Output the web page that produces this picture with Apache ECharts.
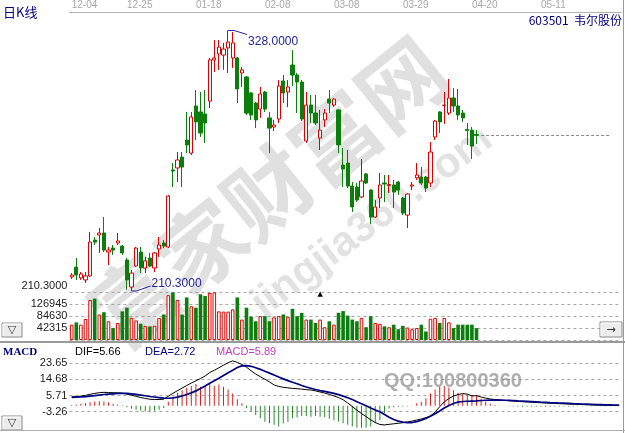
<!DOCTYPE html>
<html><head><meta charset="utf-8">
<script src="https://cdn.jsdelivr.net/npm/echarts@6/dist/echarts.min.js"></script>
<style>html,body{margin:0;padding:0;background:#fff}#c{width:625px;height:433px}</style>
</head><body><div id="c"></div>
<script>
const tickLabels = ['12-04','12-25','01-18','02-08','03-08','03-29','04-20','05-11'];
const tickIdx = [0,12,27,42,57,72,87,102];
const opens = [216.6,221.1,216.2,215.3,217.1,233.3,235.6,236.5,227.9,229.7,
232.0,230.6,224.3,212.1,221.6,227.9,220.7,225.2,220.7,229.3,
232.0,230.2,265.0,265.9,270.8,278.5,272.6,293.9,291.2,290.3,
296.1,314.7,317.4,316.9,320.1,315.6,315.6,308.8,307.0,299.8,
295.2,292.5,300.2,288.5,284.4,288.0,305.2,300.2,312.4,307.9,
304.7,278.1,294.3,290.7,279.4,287.6,297.0,294.3,292.1,267.2,
268.1,257.7,257.3,252.8,263.2,255.9,243.7,252.3,259.1,258.0,
258.2,259.5,252.3,244.6,257.7,261.4,261.8,261.8,259.1,279.9,
291.2,294.1,290.7,297.5,293.9,290.7,283.3,283.0,281.0];
const closes = [217.5,217.5,218.0,217.1,232.4,232.4,236.5,228.8,228.8,228.8,
232.9,227.5,215.3,218.4,229.7,220.7,223.9,221.6,227.5,231.1,
230.6,253.2,264.5,269.5,266.3,276.3,288.9,286.7,281.7,286.2,
314.7,315.6,320.5,319.6,322.8,322.4,301.6,310.2,290.7,289.8,
287.6,299.3,292.5,283.9,285.3,302.9,299.8,302.5,307.9,304.7,
288.0,294.3,290.7,286.2,283.0,290.7,295.2,297.0,276.3,265.4,
257.7,248.3,251.4,260.0,259.1,243.7,248.3,258.2,258.6,258.4,
255.0,255.9,245.5,254.1,258.2,262.7,259.1,256.8,273.1,287.1,
286.7,294.3,297.5,293.9,289.8,288.5,282.8,275.8,280.6];
const lows = [215.7,215.3,215.3,213.9,216.6,231.1,227.5,227.9,222.0,226.6,
231.1,226.6,210.8,210.3,221.1,218.4,218.4,221.1,218.9,225.7,
229.7,229.7,257.3,259.5,257.3,272.6,271.7,278.5,279.9,277.2,
293.0,309.2,310.2,310.2,308.8,311.1,295.2,302.5,289.8,287.6,
283.9,288.5,291.2,272.6,282.6,286.2,295.2,293.4,302.9,290.7,
287.1,277.2,286.2,285.3,274.0,284.4,290.7,293.4,272.6,257.3,
256.8,246.0,250.5,252.3,258.6,240.6,243.3,247.8,250.5,254.6,
247.8,253.7,244.6,238.8,255.9,260.5,258.2,255.0,257.3,278.5,
281.7,285.8,289.8,291.2,287.6,286.7,276.3,269.9,276.7];
const highs = [218.4,225.2,218.9,218.9,237.0,234.7,238.8,243.7,230.2,231.1,
236.5,231.1,225.2,219.8,230.2,230.2,225.7,227.5,227.9,234.7,
233.3,253.7,268.1,273.1,273.1,291.2,291.2,301.1,300.2,301.1,
315.6,323.7,323.7,322.4,328.0,327.3,316.0,311.5,307.5,300.2,
295.7,302.5,300.7,291.2,287.6,305.6,307.9,305.6,319.2,308.8,
305.6,300.2,298.9,298.9,292.1,292.5,301.1,297.5,292.5,274.9,
274.0,259.5,259.1,269.9,263.6,256.3,251.4,263.6,262.7,262.7,
260.5,260.0,252.8,254.4,259.5,268.1,266.3,262.3,277.6,287.6,
291.6,300.2,306.1,302.0,301.6,292.1,286.2,284.4,283.0];
const volumes = [54000,62000,54000,74000,141000,146000,90000,98000,66000,42000,
60000,101000,114000,78000,69000,57000,50000,48000,50000,78000,
90000,158000,168000,141000,90000,150000,119000,114000,161000,155000,
166000,168000,101000,100000,100000,108000,150000,72000,114000,82000,
66000,84000,84000,66000,80000,84000,90000,82000,110000,84000,
95600,72000,72000,60000,72000,45000,66000,54000,96000,102000,
86000,72000,66000,78000,45000,84000,60000,57000,48000,45000,
54000,38000,50000,44000,38000,42000,54000,30000,75000,78000,
60000,78000,62000,42000,54000,54000,54000,54000,42000];
const volTicks = [42315, 84630, 126945];
const priceLow = 210.3, priceHigh = 328.0;
const difVals = [4.95,5.1,5.4,5.8,6.4,6.9,7.3,7.5,7.4,7.3,
7.2,7.05,6.5,5.9,5.3,4.6,4.1,3.65,3.5,3.5,
3.7,5.35,6.95,8.45,9.85,11.3,12.7,13.9,15.2,16.6,
18.5,19.8,21.2,22.6,24.0,25.0,24.2,23.0,21.5,19.5,
17.7,16.2,14.8,13.3,11.6,10.8,10.3,10.0,9.7,9.5,
9.3,9.0,8.8,8.3,7.7,7.1,6.4,5.5,4.6,3.4,
1.6,-0.4,-2.4,-4.3,-6.0,-7.8,-9.3,-10.4,-10.6,-10.3,
-10.0,-9.7,-9.4,-9.0,-8.5,-7.9,-7.3,-6.6,-5.6,-3.5,
-0.5,2.2,4.1,5.4,6.3,6.8,6.5,5.5,5.66,
4.9,4.3,3.8,3.5,3.25,3.05,2.85,2.65,2.45,2.3,
2.15,2.0,1.85,1.7,1.6,1.45,1.35,1.2,1.1,1.0,
0.9,0.8,0.7,0.6,0.5,0.45,0.35,0.3,0.25,0.2,0.15];
const deaVals = [4.7,4.8,4.9,5.1,5.4,5.7,6.0,6.3,6.5,6.7,
6.9,6.9,6.9,6.7,6.4,6.0,5.6,5.2,4.9,4.6,
4.3,4.2,4.4,4.8,5.5,6.3,7.2,8.3,9.6,11.0,
12.5,14.0,15.4,16.9,18.4,19.8,21.3,22.2,22.4,22.0,
21.2,20.3,19.2,18.2,17.1,16.0,15.0,14.0,13.1,12.3,
11.3,10.5,9.8,9.1,8.5,8.0,7.5,6.9,6.2,5.4,
4.5,3.5,2.3,1.2,0.0,-1.2,-2.3,-3.3,-4.8,-6.3,
-7.6,-8.5,-9.1,-9.3,-9.3,-8.8,-8.0,-7.0,-5.8,-4.4,
-2.9,-1.2,0.2,1.3,2.1,2.4,2.55,2.65,2.72,
2.95,3.1,3.2,3.2,3.15,3.1,3.0,2.9,2.75,2.65,
2.5,2.35,2.2,2.05,1.95,1.8,1.7,1.55,1.45,1.35,
1.2,1.1,1.0,0.9,0.8,0.7,0.65,0.55,0.5,0.45,0.4];
const macdVals = [0.5,0.6,1.0,1.4,2.0,2.4,2.6,2.4,1.8,1.2,
0.6,0.3,-0.8,-1.6,-2.2,-2.8,-3.0,-3.1,-2.8,-2.2,
-1.2,2.3,5.1,7.3,8.7,10.0,11.0,12.1,10.6,11.5,
12.5,11.0,11.9,10.6,9.1,6.9,3.6,1.4,-1.4,-3.2,
-5.1,-6.9,-8.8,-9.7,-10.6,-11.5,-9.7,-8.8,-6.9,-6.3,
-5.7,-5.7,-6.1,-5.7,-6.1,-6.3,-7.2,-8.0,-8.8,-9.7,
-10.6,-11.5,-13.0,-13.4,-12.5,-11.5,-9.7,-8.0,-4.0,-1.5,
-0.8,-0.5,-0.4,-0.3,0.2,1.4,2.3,4.1,6.9,9.1,
10.6,11.0,10.2,8.7,7.3,6.6,6.2,6.0,5.89,
3.9,2.4,1.2,0.5,0.2,-0.1,-0.3,-0.4,-0.4,-0.5,
-0.5,-0.5,-0.5,-0.5,-0.5,-0.5,-0.4,-0.4,-0.4,-0.4,
-0.4,-0.3,-0.3,-0.3,-0.3,-0.3,-0.3,-0.2,-0.2,-0.2,-0.2];
const macdTicks = [23.65, 14.68, 5.71, -3.26];
const header = {dif: '5.66', dea: '2.72', macd: '5.89'};

const N = 120;
const RED = '#e00000', GREEN = '#0b7e0b', NAVY = '#000080';
const NUMFONT = "'Liberation Sans Narrow','Liberation Sans',sans-serif";
const slotNames = Array.from({length: N}, (_, i) => String(i));
const candleData = opens.map((o, i) => [o, closes[i], lows[i], highs[i]]);
const isUp = i => closes[i] >= opens[i];
const volData = volumes.map((v, i) => isUp(i)
  ? {value: v, itemStyle: {color: '#fff', borderColor: RED, borderWidth: 1}}
  : {value: v, itemStyle: {color: GREEN}});
const histData = macdVals.map(v => ({value: v, itemStyle: {color: v >= 0 ? '#d82020' : '#2a8a2a'}}));
const volStep = volTicks[0];
const macdStep = macdTicks[0] - macdTicks[1];
const lastIdx = closes.length - 1;
const lastClose = closes[lastIdx];

const chart = echarts.init(document.getElementById('c'));
const gridBase = {left: 69.4, width: 552, outerBoundsMode: 'none', containLabel: false};
const labelStyle = {color: '#222', fontSize: 11, margin: 2, fontFamily: NUMFONT};
const dashed = {color: '#a8a8a8', type: [3, 3], width: 1};

chart.setOption({
  animation: false,
  backgroundColor: '#fff',
  grid: [
    Object.assign({top: 30.5, height: 260.5}, gridBase),
    Object.assign({top: 292, height: 48}, gridBase),
    Object.assign({top: 347.2, height: 80.6}, gridBase)
  ],
  xAxis: [
    {type: 'category', gridIndex: 0, data: slotNames, position: 'top', offset: 18, boundaryGap: true,
     axisLine: {show: true, lineStyle: {color: '#b0b0b0'}}, axisTick: {show: false}, splitLine: {show: false},
     axisLabel: {interval: (i) => tickIdx.indexOf(i) >= 0,
                 formatter: (v, i) => { const k = tickIdx.indexOf(Number(v)); return k >= 0 ? tickLabels[k] : ''; },
                 align: 'left', color: '#a8a8a8', fontSize: 10, margin: 2, fontFamily: NUMFONT}},
    {type: 'category', gridIndex: 1, data: slotNames, boundaryGap: true, axisLine: {show: false}, axisTick: {show: false}, axisLabel: {show: false}},
    {type: 'category', gridIndex: 2, data: slotNames, boundaryGap: true, axisLine: {show: false}, axisTick: {show: false}, axisLabel: {show: false}}
  ],
  yAxis: [
    {type: 'value', gridIndex: 0, min: priceLow, max: priceHigh, axisLine: {show: false},
     axisTick: {show: false, customValues: [priceLow]}, splitLine: {show: false},
     axisLabel: Object.assign({customValues: [priceLow], formatter: v => v.toFixed(4), verticalAlign: 'bottom'}, labelStyle)},
    {type: 'value', gridIndex: 1, min: 0, max: volStep * 4, interval: volStep, axisLine: {show: false}, axisTick: {show: false},
     splitLine: {show: true, lineStyle: dashed},
     axisLabel: Object.assign({showMinLabel: false, showMaxLabel: false, formatter: v => String(Math.round(v))}, labelStyle)},
    {type: 'value', gridIndex: 2, min: macdTicks[3] - macdStep, max: macdTicks[0] + macdStep, axisLine: {show: false},
     axisTick: {show: false, customValues: macdTicks}, splitLine: {show: true, lineStyle: dashed},
     axisLabel: Object.assign({customValues: macdTicks, formatter: v => v.toFixed(2)}, labelStyle)}
  ],
  series: [
    {type: 'candlestick', xAxisIndex: 0, yAxisIndex: 0, data: candleData, barWidth: 3.6, z: 5,
     itemStyle: {color: '#fff', color0: GREEN, borderColor: RED, borderColor0: GREEN, borderWidth: 1},
     markLine: {silent: true, symbol: 'none', label: {show: false}, lineStyle: {color: '#888', type: [3, 2], width: 1},
       data: [[{coord: [String(lastIdx + 1), lastClose]}, {coord: [String(N - 3), lastClose]}]]}},
    {type: 'bar', xAxisIndex: 1, yAxisIndex: 1, data: volData, barWidth: 3.6, z: 5},
    {type: 'bar', xAxisIndex: 2, yAxisIndex: 2, data: histData, barWidth: 1, z: 4},
    {type: 'line', xAxisIndex: 2, yAxisIndex: 2, data: difVals, symbol: 'none', z: 6, lineStyle: {color: '#000', width: 1}},
    {type: 'line', xAxisIndex: 2, yAxisIndex: 2, data: deaVals, symbol: 'none', z: 6, lineStyle: {color: NAVY, width: 1.7}}
  ]
});

function button(x, y, w, h, glyph, id) {
  return {type: 'group', id: id, x: x, y: y, z: 50, children: [
    {type: 'rect', shape: {x: 0, y: 0, width: w, height: h}, style: {fill: '#ececec', stroke: '#8a8a8a', lineWidth: 1}},
    {type: 'polyline', shape: {points: [[1, h - 1], [1, 1], [w - 1, 1]]}, style: {stroke: '#fff', lineWidth: 1, fill: null}},
    {type: 'text', x: w / 2, y: h / 2 + 0.5, style: {text: glyph, fill: '#333', font: '11px "DejaVu Sans"', align: 'center', verticalAlign: 'middle'}}
  ]};
}

const hi = chart.convertToPixel({gridIndex: 0}, [String(highs.indexOf(priceHigh)), priceHigh]);
const lo = chart.convertToPixel({gridIndex: 0}, [String(lows.indexOf(priceLow)), priceLow]);
const tri = chart.convertToPixel({gridIndex: 1}, ['54', volStep * 4]);
const ANN = '#24249c';
const wmRot = 39 * Math.PI / 180;

chart.setOption({graphic: [
  {type: 'text', id: 'wm1', x: 268, y: 192, rotation: wmRot, z: 0, silent: true,
   style: {text: '富家财富网', fill: 'rgba(160,160,160,0.33)', font: 'bold 86px "Noto Sans CJK SC"', align: 'center', verticalAlign: 'middle'}},
  {type: 'text', id: 'wm3', x: 372, y: 222, rotation: 37 * Math.PI / 180, z: 0, silent: true,
   style: {text: 'jingjia360.com', fill: 'rgba(160,160,160,0.30)', font: 'bold 42px "Liberation Sans"', align: 'center', verticalAlign: 'middle'}},
  {type: 'text', id: 'wm2', x: 453, y: 381, z: 0, silent: true,
   style: {text: 'QQ:100800360', fill: 'rgba(140,140,140,0.7)', font: 'bold 20px "Liberation Sans"', align: 'center', verticalAlign: 'middle'}},
  {type: 'text', id: 't1', x: 3, y: 12, z: 50, style: {text: '日K线', fill: NAVY, font: '13px "Noto Sans CJK SC"', verticalAlign: 'middle'}},
  {type: 'text', id: 't2', x: 622, y: 20, z: 50, style: {text: '603501  韦尔股份', fill: NAVY, font: '12px "Noto Sans CJK SC"', align: 'right', verticalAlign: 'middle'}},
  {type: 'text', id: 't3', x: 3, y: 352, z: 50, style: {text: 'MACD', fill: NAVY, font: 'bold 11px "Liberation Serif"', verticalAlign: 'middle'}},
  {type: 'text', id: 't4', x: 75, y: 352, z: 50, style: {text: 'DIF=' + header.dif, fill: '#000', font: '11px "Liberation Sans"', verticalAlign: 'middle'}},
  {type: 'text', id: 't5', x: 145, y: 352, z: 50, style: {text: 'DEA=' + header.dea, fill: NAVY, font: '11px "Liberation Sans"', verticalAlign: 'middle'}},
  {type: 'text', id: 't6', x: 216, y: 352, z: 50, style: {text: 'MACD=' + header.macd, fill: '#c040c0', font: '11px "Liberation Sans"', verticalAlign: 'middle'}},
  {type: 'rect', id: 'sep', z: 40, shape: {x: 0, y: 341, width: 625, height: 2}, style: {fill: '#9a9a9a'}},
  {type: 'rect', id: 'bot', z: 40, shape: {x: 0, y: 430, width: 625, height: 1}, style: {fill: '#b0b0b0'}},
  {type: 'rect', id: 'rgt', z: 40, shape: {x: 623, y: 0, width: 1, height: 433}, style: {fill: '#9a9a9a'}},
  button(2, 323, 20, 14, '▽', 'b1'),
  button(2, 416, 20, 14, '▽', 'b2'),
  button(600, 322, 22, 15, '→', 'b3'),
  {type: 'polyline', id: 'a1', z: 20, shape: {points: [[hi[0], hi[1]], [hi[0] + 6, hi[1]], [hi[0] + 19, hi[1] + 4]]}, style: {stroke: ANN, lineWidth: 1, fill: null}},
  {type: 'text', id: 'a1t', z: 20, x: hi[0] + 20, y: hi[1] + 11, style: {text: priceHigh.toFixed(4), fill: ANN, font: '12px "Liberation Sans"', verticalAlign: 'middle'}},
  {type: 'polyline', id: 'a2', z: 20, shape: {points: [[lo[0], lo[1]], [lo[0] + 5, lo[1]], [lo[0] + 19, lo[1] - 5]]}, style: {stroke: ANN, lineWidth: 1, fill: null}},
  {type: 'text', id: 'a2t', z: 20, x: lo[0] + 20, y: lo[1] - 7, style: {text: priceLow.toFixed(4), fill: ANN, font: '12px "Liberation Sans"', verticalAlign: 'middle'}},
  {type: 'text', id: 'tri', z: 20, x: tri[0], y: tri[1] + 2, style: {text: '▲', fill: '#000', font: '7px "DejaVu Sans"', align: 'center', verticalAlign: 'middle'}}
]});
</script>
</body></html>
